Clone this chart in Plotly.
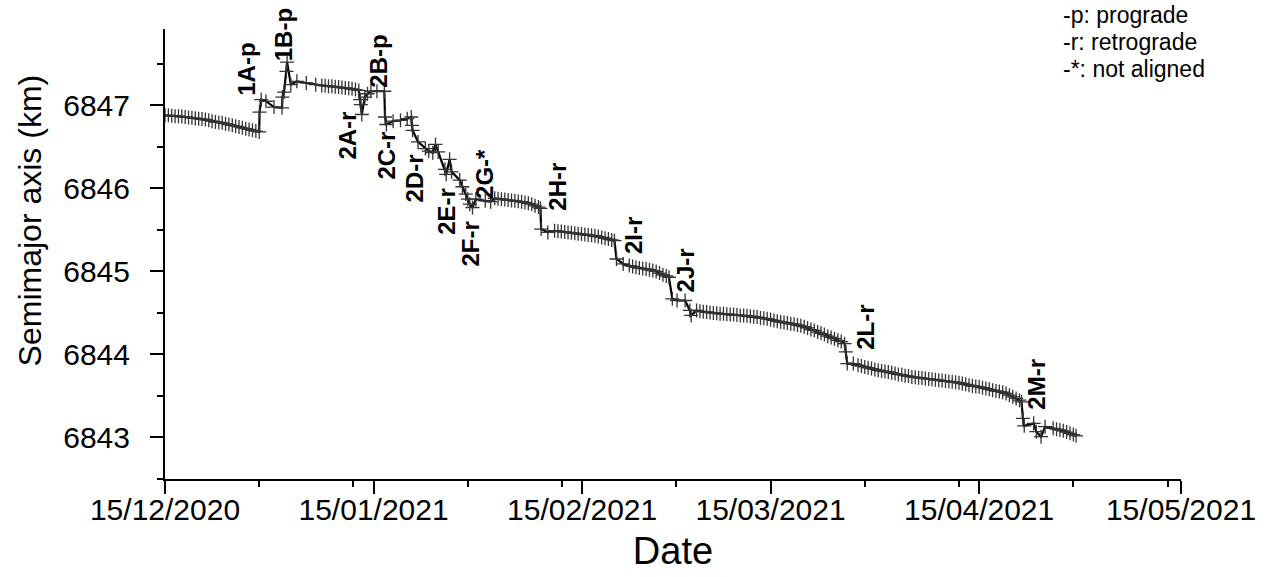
import pandas as pd
import plotly.graph_objects as go

# ---- data (days since 15/12/2020, semimajor axis in km) ----
days = [
    0.0, 0.5, 1.0, 1.5, 2.0, 2.5, 3.0, 3.5, 4.0, 4.5, 5.0, 5.5, 6.0, 6.5, 7.0, 7.5,
    8.0, 8.5, 9.0, 9.5, 10.0, 10.5, 11.0, 11.5, 12.0, 12.5, 13.0, 13.5, 14.0,
    14.05, 14.3, 15.0, 16.2, 17.4,
    17.45, 17.7, 18.05, 18.15, 18.7, 19.6, 21.0, 22.4,
    23.3, 23.8, 24.3, 24.8, 25.3, 25.8, 26.3, 26.8, 27.3, 27.8, 28.3, 28.8,
    29.0, 29.1, 29.25,
    29.7, 30.1, 30.6, 31.5, 32.6,
    32.7, 32.9, 33.9, 35.0, 36.0, 36.6,
    36.7, 36.8, 37.6, 38.7, 39.2, 39.8, 40.2,
    40.6, 41.6, 41.8, 42.3, 42.6, 43.8, 44.2, 44.7,
    45.0, 45.3, 45.7,
    46.2, 47.6, 48.4, 49.0, 49.5, 50.0, 50.5, 51.0, 51.5, 52.0, 52.5, 53.0, 53.5,
    54.0, 54.5, 55.0, 55.5, 55.8,
    55.9, 56.9, 57.9, 58.4, 58.9, 59.4, 59.9, 60.4, 60.9, 61.4, 61.9, 62.4, 62.9,
    63.4, 63.9, 64.4, 64.9, 65.4, 65.9, 66.4, 66.8,
    67.1, 68.1, 69.0, 69.5, 70.0, 70.5, 71.0, 71.5, 72.0, 72.5, 73.0, 73.5, 74.0,
    74.5, 74.9,
    75.4, 76.1, 77.3, 78.0, 78.2,
    79.0, 79.5, 80.0, 80.5, 81.0, 81.5, 82.0, 82.5, 83.0, 83.5, 84.0, 84.5, 85.0,
    85.5, 86.0, 86.5, 87.0, 87.5, 88.0, 88.5, 89.0, 89.5, 90.0, 90.5, 91.0, 91.5,
    92.0, 92.5, 93.0, 93.5, 94.0, 94.5, 95.0, 95.5, 96.0, 96.5, 97.0, 97.5, 98.0,
    98.5, 99.0, 99.5, 100.0, 100.5, 101.0,
    101.2, 101.4, 102.3,
    103.0, 103.5, 104.0, 104.5, 105.0, 105.5, 106.0, 106.5, 107.0, 107.5, 108.0,
    108.5, 109.0, 109.5, 110.0, 110.5, 111.0, 111.5, 112.0, 112.5, 113.0, 113.5,
    114.0, 114.5, 115.0, 115.5, 116.0, 116.5, 117.0, 117.5, 118.0, 118.5, 119.0,
    119.5, 120.0, 120.5, 121.0, 121.5, 122.0, 122.5, 123.0, 123.5, 124.0, 124.5,
    125.0, 125.5, 126.0, 126.5, 127.0, 127.3,
    127.5, 127.7, 129.1, 129.5, 130.2, 130.8,
    132.0, 132.5, 133.0, 133.5, 134.0, 134.5, 135.0, 135.4,
]

sma_km = [
    6846.88, 6846.88, 6846.875, 6846.87, 6846.87, 6846.865, 6846.86, 6846.855,
    6846.85, 6846.845, 6846.84, 6846.835, 6846.83, 6846.82, 6846.81, 6846.80,
    6846.795, 6846.79, 6846.78, 6846.77, 6846.76, 6846.75, 6846.74, 6846.73,
    6846.72, 6846.71, 6846.70, 6846.69, 6846.68,
    6846.92, 6847.07, 6847.05, 6846.98, 6846.97,
    6847.10, 6847.16, 6847.41, 6847.52, 6847.25, 6847.29, 6847.27, 6847.25,
    6847.24, 6847.235, 6847.23, 6847.23, 6847.225, 6847.22, 6847.215, 6847.21,
    6847.205, 6847.20, 6847.19, 6847.18,
    6847.07, 6847.01, 6846.89,
    6847.10, 6847.14, 6847.17, 6847.17, 6847.17,
    6846.86, 6846.77, 6846.81, 6846.82, 6846.84, 6846.86,
    6846.76, 6846.70, 6846.56, 6846.48, 6846.45, 6846.43, 6846.53,
    6846.44, 6846.23, 6846.17, 6846.35, 6846.20, 6846.10, 6846.02, 6845.93,
    6845.87, 6845.81, 6845.77,
    6845.87, 6845.85, 6845.84, 6845.88, 6845.875, 6845.87, 6845.865, 6845.86,
    6845.855, 6845.85, 6845.845, 6845.84, 6845.83, 6845.82, 6845.81, 6845.79,
    6845.775, 6845.76,
    6845.51, 6845.47, 6845.49, 6845.485, 6845.48, 6845.475, 6845.47, 6845.465,
    6845.46, 6845.455, 6845.45, 6845.445, 6845.44, 6845.435, 6845.43, 6845.42,
    6845.41, 6845.40, 6845.39, 6845.38, 6845.37,
    6845.15, 6845.09, 6845.07, 6845.06, 6845.05, 6845.04, 6845.035, 6845.03,
    6845.02, 6845.01, 6845.00, 6844.98, 6844.96, 6844.945, 6844.93,
    6844.67, 6844.65, 6844.65, 6844.53, 6844.47,
    6844.53, 6844.52, 6844.515, 6844.51, 6844.505, 6844.50, 6844.495, 6844.49,
    6844.49, 6844.485, 6844.48, 6844.48, 6844.475, 6844.47, 6844.47, 6844.465,
    6844.46, 6844.455, 6844.45, 6844.44, 6844.435, 6844.43, 6844.42, 6844.41,
    6844.40, 6844.39, 6844.385, 6844.38, 6844.37, 6844.365, 6844.355, 6844.345,
    6844.335, 6844.32, 6844.30, 6844.29, 6844.27, 6844.255, 6844.24, 6844.22,
    6844.205, 6844.19, 6844.17, 6844.155, 6844.13,
    6844.03, 6843.89, 6843.89,
    6843.87, 6843.86, 6843.85, 6843.84, 6843.83, 6843.82, 6843.81, 6843.80,
    6843.795, 6843.79, 6843.78, 6843.77, 6843.76, 6843.755, 6843.745, 6843.74,
    6843.73, 6843.725, 6843.72, 6843.715, 6843.71, 6843.705, 6843.70, 6843.695,
    6843.69, 6843.685, 6843.68, 6843.675, 6843.67, 6843.665, 6843.66, 6843.65,
    6843.64, 6843.63, 6843.62, 6843.615, 6843.61, 6843.60, 6843.59, 6843.58,
    6843.57, 6843.56, 6843.555, 6843.545, 6843.53, 6843.51, 6843.49, 6843.47,
    6843.45, 6843.43,
    6843.23, 6843.14, 6843.17, 6843.07, 6843.01, 6843.13,
    6843.11, 6843.10, 6843.09, 6843.08, 6843.065, 6843.05, 6843.035, 6843.02,
]

# manoeuvre labels (text, days since start, km)
label_text = ["1A-p", "1B-p", "2A-r", "2B-p", "2C-r", "2D-r", "2E-r", "2F-r",
              "2G-*", "2H-r", "2I-r", "2J-r", "2L-r", "2M-r"]
label_day = [12.2, 17.6, 27.1, 31.7, 32.9, 37.0, 41.9, 45.4,
             47.5, 58.4, 69.6, 77.4, 104.0, 129.5]
label_km = [6847.43, 6847.85, 6846.64, 6847.53, 6846.40, 6846.12, 6845.73, 6845.33,
            6846.17, 6846.02, 6845.43, 6845.01, 6844.33, 6843.64]

# axis ticks
x_tick_dates = ["2020-12-15", "2021-01-15", "2021-02-15", "2021-03-15",
                "2021-04-15", "2021-05-15"]
x_tick_text = ["15/12/2020", "15/01/2021", "15/02/2021", "15/03/2021",
               "15/04/2021", "15/05/2021"]
x_minor_dates = ["2020-12-29", "2021-01-12", "2021-01-29", "2021-02-12",
                 "2021-03-01", "2021-03-29", "2021-04-12", "2021-04-29",
                 "2021-05-13"]
legend_lines = ["-p: prograde", "-r: retrograde", "-*: not aligned"]

start = pd.Timestamp("2020-12-15")
x_dates = start + pd.to_timedelta(days, unit="D")
lab_dates = start + pd.to_timedelta(label_day, unit="D")

FONT = "Liberation Sans, Arial, sans-serif"

fig = go.Figure()
fig.add_trace(go.Scatter(
    x=x_dates, y=sma_km, mode="lines+markers",
    line=dict(color="black", width=2.2),
    marker=dict(symbol="cross-thin", size=10,
                line=dict(color="#333333", width=1.3)),
    showlegend=False, hoverinfo="skip",
))

for t, d, v in zip(label_text, lab_dates, label_km):
    fig.add_annotation(x=d, y=v, xref="x", yref="y", text=f"<b>{t}</b>",
                       textangle=-90, showarrow=False,
                       font=dict(family=FONT, size=24, color="black"))

for i, line in enumerate(legend_lines):
    fig.add_annotation(xref="paper", yref="paper", x=0.882,
                       y=(479 - (15 + 27 * i)) / 450,
                       xanchor="left", yanchor="middle", align="left",
                       text=line, showarrow=False,
                       font=dict(family=FONT, size=23, color="black"))

# y-axis title placed as annotation
fig.add_annotation(xref="paper", yref="paper", x=-0.1325, y=(479 - 220) / 450,
                   xanchor="center", yanchor="middle", textangle=-90,
                   text="Semimajor axis (km)", showarrow=False,
                   font=dict(family=FONT, size=32, color="black"))

fig.update_layout(
    width=1268, height=577,
    margin=dict(l=165, r=79, t=29, b=98),
    paper_bgcolor="white", plot_bgcolor="white",
    font=dict(family=FONT, color="black"),
)
fig.update_xaxes(
    range=["2020-12-15", "2021-05-15"],
    tickmode="array", tickvals=x_tick_dates, ticktext=x_tick_text,
    ticks="outside", ticklen=13, tickwidth=2, tickcolor="black",
    minor=dict(tickmode="array", tickvals=x_minor_dates, ticks="outside",
               ticklen=6, tickwidth=2, tickcolor="black"),
    showline=True, linewidth=2, linecolor="black", showgrid=False,
    zeroline=False, ticklabelstandoff=-10,
    tickfont=dict(family=FONT, size=30, color="black"),
    title=dict(text="Date", font=dict(family=FONT, size=38, color="black"),
               standoff=12),
)
fig.update_yaxes(
    range=[6842.5, 6847.92], tickmode="linear", tick0=6843, dtick=1,
    ticks="outside", ticklen=13, tickwidth=2, tickcolor="black",
    minor=dict(dtick=0.5, tick0=6842.5, ticks="outside", ticklen=6,
               tickwidth=2, tickcolor="black"),
    showline=True, linewidth=2, linecolor="black", showgrid=False,
    zeroline=False, tickformat="d", ticklabelstandoff=14,
    tickfont=dict(family=FONT, size=30, color="black"),
)

fig.write_html("out.html")
